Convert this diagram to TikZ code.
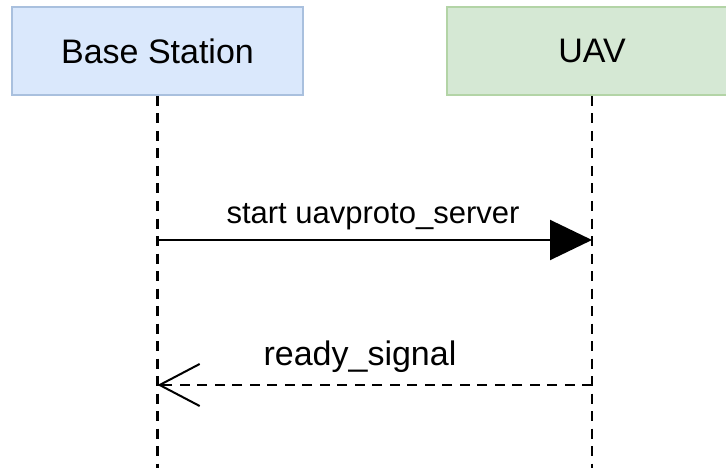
\documentclass[tikz,border=0pt]{standalone}
\usepackage{fontspec}
\setmainfont{Liberation Sans}
\usetikzlibrary{arrows.meta,positioning}

\definecolor{bsfill}{HTML}{DAE8FC}
\definecolor{bsline}{HTML}{A9C0DE}
\definecolor{uavfill}{HTML}{D5E8D4}
\definecolor{uavline}{HTML}{B3D4A6}

\begin{document}
\begin{tikzpicture}[x=1pt,y=-1pt,thick,
	actor/.style={draw,line width=2pt,minimum width=291pt,minimum height=88pt,inner sep=0pt,font=\fontsize{34}{40}\selectfont},
	life/.style={line width=2.6pt,dash pattern=on 10pt off 7.5pt},
	msg/.style={line width=2pt},
	lbl/.style={anchor=base,font=\fontsize{31}{36}\selectfont}]
	\clip (0,0) rectangle (726,468);
	\node[actor,fill=bsfill,draw=bsline]   (BS)  at (157.5,51) {Base Station};
	\node[actor,fill=uavfill,draw=uavline] (UAV) at (592,51)   {UAV};

	% lifelines
	\coordinate (BS_end)  at (157.5,475);
	\coordinate (UAV_end) at (592,475);
	\draw[life] (BS.south) -- (BS_end);
	\draw[life] (UAV.south) -- (UAV_end);

	% messages
	\coordinate (BS_1)  at (157.5,240);
	\coordinate (UAV_1) at (592,240);
	\coordinate (BS_2)  at (157.5,385);
	\coordinate (UAV_2) at (592,385);

	\draw[msg,-{Triangle[length=42pt,width=40pt]}] (BS_1) -- (UAV_1);
	\draw[msg,dash pattern=on 10pt off 7.5pt,-{Straight Barb[length=40pt,width=42pt]}] (UAV_2) -- (BS_2);

	\node[lbl] (start) at (373,223) {start uavproto\_server};
	\node[lbl,font=\fontsize{34}{40}\selectfont] (ready) at (360,365) {ready\_signal};
\end{tikzpicture}
\end{document}
